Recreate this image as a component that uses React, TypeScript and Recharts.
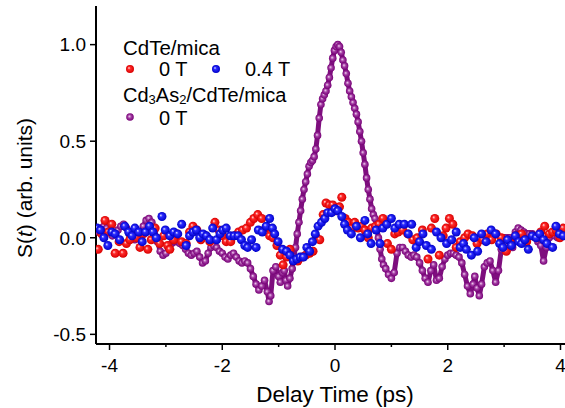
import { ScatterChart, Scatter, XAxis, YAxis } from "recharts";

// delay time (ps) vs S(t) (arb. units)
const xTicks = [-4, -3, -2, -1, 0, 1, 2, 3, 4];
const yTicks = [-0.5, 0, 0.5, 1.0];

const cdTeMica0T: [number, number][] = [
  [-4.2, -0.06], [-4.14, 0.02], [-4.08, 0.09], [-4.02, 0.03], [-3.96, 0.07], [-3.9, -0.08],
  [-3.83, -0.02], [-3.76, -0.08], [-3.7, -0.03], [-3.64, -0.01], [-3.58, 0.03], [-3.52, 0.0],
  [-3.46, -0.05], [-3.4, 0.02], [-3.32, -0.06], [-3.26, -0.01], [-3.19, 0.05], [-3.11, -0.03],
  [-3.04, 0.01], [-2.97, -0.04], [-2.93, -0.06], [-2.86, -0.01], [-2.8, 0.02], [-2.72, -0.02],
  [-2.64, -0.03], [-2.58, 0.03], [-2.52, 0.06], [-2.45, 0.04], [-2.38, -0.01], [-2.3, 0.01],
  [-2.22, -0.02], [-2.13, 0.08], [-2.06, 0.04], [-1.99, 0.01], [-1.93, -0.02], [-1.85, -0.02],
  [-1.78, 0.01], [-1.71, 0.03], [-1.64, 0.04], [-1.57, 0.05], [-1.5, 0.08], [-1.44, 0.1],
  [-1.37, 0.12], [-1.3, 0.1], [-1.23, 0.05], [-1.16, 0.01], [-1.1, 0.0], [-1.03, -0.04],
  [-0.97, -0.09], [-0.92, -0.14], [-0.86, -0.1], [-0.8, -0.06], [-0.74, -0.12], [-0.66, -0.12],
  [-0.58, -0.1], [-0.52, -0.09], [-0.45, -0.08], [-0.39, -0.07], [-0.33, 0.0], [-0.27, -0.01],
  [-0.21, 0.12], [-0.16, 0.18], [-0.1, 0.17], [-0.04, 0.17], [0.02, 0.14], [0.08, 0.16],
  [0.12, 0.21], [0.18, 0.1], [0.24, 0.08], [0.3, 0.05], [0.35, 0.08], [0.41, 0.05],
  [0.47, 0.06], [0.53, 0.04], [0.59, 0.0], [0.65, 0.05], [0.72, 0.06], [0.78, 0.07],
  [0.85, 0.1], [0.93, -0.03], [1.0, -0.06], [1.06, 0.02], [1.12, 0.03], [1.2, 0.04],
  [1.29, 0.02], [1.38, -0.01], [1.46, 0.0], [1.55, 0.04], [1.65, -0.11], [1.71, 0.05],
  [1.77, 0.1], [1.85, -0.09], [1.92, 0.01], [1.97, 0.05], [2.03, 0.1], [2.09, 0.07],
  [2.15, -0.05], [2.22, -0.02], [2.3, 0.0], [2.36, 0.02], [2.44, 0.01], [2.52, -0.03],
  [2.62, -0.01], [2.7, 0.02], [2.78, -0.01], [2.86, 0.02], [2.95, 0.0], [3.04, -0.07],
  [3.12, -0.03], [3.2, 0.01], [3.31, 0.02], [3.4, -0.02], [3.5, 0.01], [3.58, 0.0],
  [3.65, 0.03], [3.72, 0.06], [3.8, 0.02], [3.86, 0.03], [3.92, 0.04], [3.99, 0.0], [4.05, 0.05],
];

const cdTeMica04T: [number, number][] = [
  [-4.22, 0.05], [-4.16, 0.04], [-4.1, 0.0], [-4.03, -0.04], [-3.96, 0.03], [-3.9, 0.02],
  [-3.82, -0.01], [-3.73, 0.06], [-3.66, 0.03], [-3.6, 0.01], [-3.55, 0.05], [-3.48, 0.03],
  [-3.42, -0.02], [-3.36, 0.03], [-3.29, 0.06], [-3.23, 0.03], [-3.17, 0.0], [-3.07, 0.11],
  [-3.01, 0.04], [-2.93, 0.01], [-2.86, 0.03], [-2.79, 0.02], [-2.72, 0.07], [-2.64, -0.04],
  [-2.58, 0.01], [-2.52, 0.03], [-2.46, 0.04], [-2.4, 0.0], [-2.34, 0.02], [-2.28, 0.01],
  [-2.22, -0.01], [-2.17, 0.05], [-2.1, -0.01], [-2.04, 0.02], [-1.99, 0.04], [-1.93, 0.05],
  [-1.86, 0.01], [-1.79, 0.01], [-1.72, 0.01], [-1.66, -0.01], [-1.6, -0.04], [-1.55, -0.05],
  [-1.48, -0.01], [-1.4, -0.05], [-1.36, 0.04], [-1.29, 0.03], [-1.22, 0.06], [-1.16, 0.1],
  [-1.11, 0.05], [-1.07, 0.02], [-1.01, -0.02], [-0.93, -0.06], [-0.86, -0.07], [-0.8, -0.09],
  [-0.74, -0.12], [-0.68, -0.11], [-0.62, -0.1], [-0.56, -0.1], [-0.5, -0.05], [-0.45, -0.07],
  [-0.4, -0.02], [-0.35, 0.02], [-0.3, 0.06], [-0.24, 0.08], [-0.18, 0.1], [-0.13, 0.13],
  [-0.06, 0.13], [0.0, 0.15], [0.05, 0.14], [0.12, 0.11], [0.17, 0.07], [0.22, 0.04],
  [0.29, 0.02], [0.38, 0.06], [0.45, 0.0], [0.53, 0.09], [0.58, 0.02], [0.64, -0.03],
  [0.73, 0.04], [0.8, -0.03], [0.85, 0.05], [0.92, 0.07], [1.0, 0.1], [1.06, 0.05],
  [1.14, 0.07], [1.23, 0.07], [1.3, 0.02], [1.36, 0.07], [1.44, -0.05], [1.5, -0.02],
  [1.56, 0.02], [1.62, -0.04], [1.71, -0.06], [1.8, 0.03], [1.88, 0.0], [1.98, -0.03],
  [2.07, -0.01], [2.15, 0.03], [2.22, -0.05], [2.28, -0.03], [2.33, -0.06], [2.42, -0.09],
  [2.47, 0.0], [2.53, -0.07], [2.6, 0.02], [2.68, -0.02], [2.77, 0.04], [2.85, 0.02],
  [2.92, -0.03], [2.98, -0.05], [3.06, -0.01], [3.13, -0.04], [3.2, 0.01], [3.26, -0.02],
  [3.31, -0.03], [3.37, -0.01], [3.43, -0.06], [3.5, 0.01], [3.57, 0.0], [3.63, 0.02],
  [3.7, -0.01], [3.76, -0.03], [3.86, -0.05], [3.92, 0.06], [3.98, 0.02], [4.05, 0.01],
];

const cd3As2CdTeMica0T: [number, number][] = [
  [-4.2, 0.03], [-4.15, 0.05], [-4.1, 0.06], [-4.05, 0.05], [-4.0, 0.03], [-3.95, 0.01],
  [-3.9, 0.02], [-3.85, 0.04], [-3.8, 0.06], [-3.75, 0.07], [-3.7, 0.05], [-3.65, 0.02],
  [-3.6, 0.0], [-3.55, -0.01], [-3.5, 0.01], [-3.45, 0.03], [-3.4, 0.06], [-3.35, 0.09],
  [-3.3, 0.1], [-3.25, 0.08], [-3.2, 0.04], [-3.15, -0.02], [-3.1, -0.07], [-3.05, -0.09],
  [-3.0, -0.08], [-2.95, -0.05], [-2.9, -0.03], [-2.85, -0.02], [-2.8, -0.02], [-2.75, -0.03],
  [-2.7, -0.04], [-2.65, -0.06], [-2.6, -0.08], [-2.55, -0.09], [-2.5, -0.08], [-2.45, -0.07],
  [-2.4, -0.1], [-2.35, -0.13], [-2.3, -0.12], [-2.25, -0.08], [-2.2, -0.05], [-2.15, -0.04],
  [-2.1, -0.05], [-2.05, -0.07], [-2.0, -0.08], [-1.95, -0.1], [-1.9, -0.11], [-1.85, -0.09],
  [-1.8, -0.08], [-1.75, -0.1], [-1.7, -0.12], [-1.65, -0.13], [-1.6, -0.12], [-1.55, -0.13],
  [-1.5, -0.16], [-1.45, -0.2], [-1.4, -0.24], [-1.35, -0.27], [-1.3, -0.25], [-1.25, -0.22],
  [-1.2, -0.28], [-1.17, -0.33], [-1.14, -0.3], [-1.1, -0.17], [-1.05, -0.15], [-1.0, -0.2],
  [-0.97, -0.23], [-0.93, -0.18], [-0.9, -0.17], [-0.87, -0.22], [-0.84, -0.25], [-0.8, -0.21],
  [-0.76, -0.16], [-0.73, -0.1], [-0.7, -0.05], [-0.67, 0.02], [-0.64, 0.08], [-0.61, 0.14],
  [-0.58, 0.2], [-0.55, 0.25], [-0.52, 0.29], [-0.49, 0.33], [-0.46, 0.37], [-0.43, 0.39],
  [-0.4, 0.4], [-0.37, 0.42], [-0.34, 0.46], [-0.31, 0.53], [-0.28, 0.62], [-0.25, 0.69],
  [-0.22, 0.72], [-0.19, 0.74], [-0.16, 0.76], [-0.13, 0.79], [-0.1, 0.83], [-0.07, 0.88],
  [-0.04, 0.93], [-0.01, 0.97], [0.02, 0.99], [0.05, 1.0], [0.08, 0.99], [0.11, 0.96],
  [0.14, 0.92], [0.17, 0.89], [0.2, 0.85], [0.23, 0.8], [0.26, 0.76], [0.29, 0.73],
  [0.32, 0.7], [0.35, 0.67], [0.38, 0.64], [0.41, 0.6], [0.44, 0.55], [0.47, 0.5],
  [0.5, 0.44], [0.53, 0.38], [0.56, 0.31], [0.59, 0.25], [0.62, 0.2], [0.65, 0.15],
  [0.68, 0.12], [0.71, 0.1], [0.74, 0.06], [0.77, 0.0], [0.8, -0.06], [0.83, -0.11],
  [0.86, -0.14], [0.9, -0.16], [0.95, -0.19], [1.0, -0.21], [1.05, -0.18], [1.1, -0.08],
  [1.15, -0.05], [1.2, -0.05], [1.25, -0.07], [1.3, -0.09], [1.35, -0.1], [1.4, -0.09],
  [1.45, -0.1], [1.5, -0.13], [1.55, -0.17], [1.6, -0.21], [1.65, -0.23], [1.7, -0.17],
  [1.75, -0.14], [1.8, -0.22], [1.85, -0.21], [1.9, -0.15], [1.95, -0.11], [2.0, -0.09],
  [2.05, -0.08], [2.1, -0.08], [2.15, -0.09], [2.2, -0.1], [2.25, -0.13], [2.3, -0.19],
  [2.35, -0.25], [2.4, -0.29], [2.45, -0.24], [2.48, -0.2], [2.52, -0.26], [2.56, -0.3],
  [2.6, -0.24], [2.65, -0.15], [2.7, -0.13], [2.75, -0.12], [2.8, -0.17], [2.85, -0.23],
  [2.9, -0.17], [2.95, -0.06], [3.0, 0.0], [3.05, 0.0], [3.1, 0.0], [3.15, -0.05],
  [3.2, 0.03], [3.25, 0.05], [3.3, 0.04], [3.35, 0.03], [3.4, 0.02], [3.45, 0.02],
  [3.5, 0.02], [3.55, 0.0], [3.6, -0.02], [3.65, -0.04], [3.7, -0.12], [3.75, -0.05],
  [3.8, 0.0], [3.85, 0.02], [3.9, 0.01], [3.95, 0.0], [4.0, 0.01], [4.05, 0.02],
];

const toPoints = (arr: [number, number][]) => arr.map(([x, y]) => ({ x, y }));

const FONT = "'Liberation Sans', Arial, sans-serif";

const ball = (id: string, r: number) => (p: any) => (
  <circle cx={p.cx} cy={p.cy} r={r} fill={`url(#${id})`} />
);

function BottomTick(props: any) {
  const { x, y, payload } = props;
  const major = payload.value % 2 === 0;
  return (
    <g>
      <line x1={x} x2={x} y1={y} y2={y + (major ? 6 : 3)} stroke="#000" strokeWidth={1.5} />
      {major && (
        <text x={x} y={y + 27.5} textAnchor="middle" fontSize={19} fontFamily={FONT} fill="#000">
          {payload.value}
        </text>
      )}
    </g>
  );
}

export default function App() {
  return (
    <div style={{ position: "absolute", left: 0, top: 0, width: 565, height: 408, background: "#fff" }}>
      <svg width={0} height={0} style={{ position: "absolute" }}>
        <defs>
          <radialGradient id="ballRed" cx="50%" cy="50%" r="50%" fx="35%" fy="35%">
            <stop offset="0%" stopColor="#ffe4e4" />
            <stop offset="35%" stopColor="#ff2a2a" />
            <stop offset="100%" stopColor="#d80000" />
          </radialGradient>
          <radialGradient id="ballBlue" cx="50%" cy="50%" r="50%" fx="35%" fy="35%">
            <stop offset="0%" stopColor="#e4e4ff" />
            <stop offset="35%" stopColor="#2a2aff" />
            <stop offset="100%" stopColor="#0000c8" />
          </radialGradient>
          <radialGradient id="ballPurple" cx="50%" cy="50%" r="50%" fx="40%" fy="40%">
            <stop offset="0%" stopColor="#f2d2f2" />
            <stop offset="45%" stopColor="#a23ca2" />
            <stop offset="100%" stopColor="#760076" />
          </radialGradient>
        </defs>
      </svg>
      <ScatterChart width={565} height={408} margin={{ top: 6, right: 0, bottom: 0, left: 0 }}>
        <XAxis
          xAxisId="top"
          orientation="top"
          type="number"
          dataKey="x"
          domain={[-4.24, 4.08]}
          allowDataOverflow
          ticks={xTicks}
          interval={0}
          height={0}
          mirror
          tickSize={4}
          tickFormatter={() => ""}
          axisLine={{ stroke: "#000", strokeWidth: 2 }}
          tickLine={{ stroke: "#000", strokeWidth: 1.5 }}
        />
        <XAxis
          type="number"
          dataKey="x"
          domain={[-4.24, 4.08]}
          allowDataOverflow
          ticks={xTicks}
          interval={0}
          height={64}
          tickSize={0}
          tickMargin={0}
          tickLine={false}
          tick={BottomTick}
          axisLine={{ stroke: "#000", strokeWidth: 2 }}
        />
        <YAxis
          type="number"
          dataKey="y"
          domain={[-0.55, 1.2]}
          allowDataOverflow
          ticks={yTicks}
          interval={0}
          width={96}
          tickSize={6}
          tickMargin={4}
          tickFormatter={(v: number) => v.toFixed(1)}
          tick={{ fontSize: 19, fontFamily: FONT, fill: "#000" }}
          axisLine={{ stroke: "#000", strokeWidth: 2 }}
          tickLine={{ stroke: "#000", strokeWidth: 1.5 }}
        />
        <Scatter
          data={toPoints(cd3As2CdTeMica0T)}
          line={{ stroke: "#7e0e7e", strokeWidth: 5, strokeLinejoin: "round", strokeLinecap: "round" }}
          shape={ball("ballPurple", 3.8)}
          isAnimationActive={false}
        />
        <Scatter data={toPoints(cdTeMica0T)} shape={ball("ballRed", 4.5)} isAnimationActive={false} />
        <Scatter data={toPoints(cdTeMica04T)} shape={ball("ballBlue", 4.5)} isAnimationActive={false} />
      </ScatterChart>
      <svg
        width={565}
        height={408}
        style={{ position: "absolute", left: 0, top: 0, pointerEvents: "none" }}
        fontFamily={FONT}
      >
        <text x={32} y={188} transform="rotate(-90 32 188)" textAnchor="middle" fontSize={21}>
          S(<tspan fontStyle="italic">t</tspan>) (arb. units)
        </text>
        <text x={335} y={402} textAnchor="middle" fontSize={22.5}>
          Delay Time (ps)
        </text>
        <text x={123} y={55} fontSize={20.5}>CdTe/mica</text>
        <circle cx={130} cy={69} r={4} fill="url(#ballRed)" />
        <text x={159} y={76} fontSize={20}>0 T</text>
        <circle cx={216} cy={69} r={4} fill="url(#ballBlue)" />
        <text x={245} y={76} fontSize={20}>0.4 T</text>
        <text x={123} y={102} fontSize={20}>
          Cd<tspan fontSize={13} dy={1.5}>3</tspan>
          <tspan dy={-1.5}>As</tspan>
          <tspan fontSize={13} dy={1.5}>2</tspan>
          <tspan dy={-1.5}>/CdTe/mica</tspan>
        </text>
        <circle cx={130} cy={117} r={3.8} fill="url(#ballPurple)" />
        <text x={159} y={125} fontSize={20}>0 T</text>
      </svg>
    </div>
  );
}
